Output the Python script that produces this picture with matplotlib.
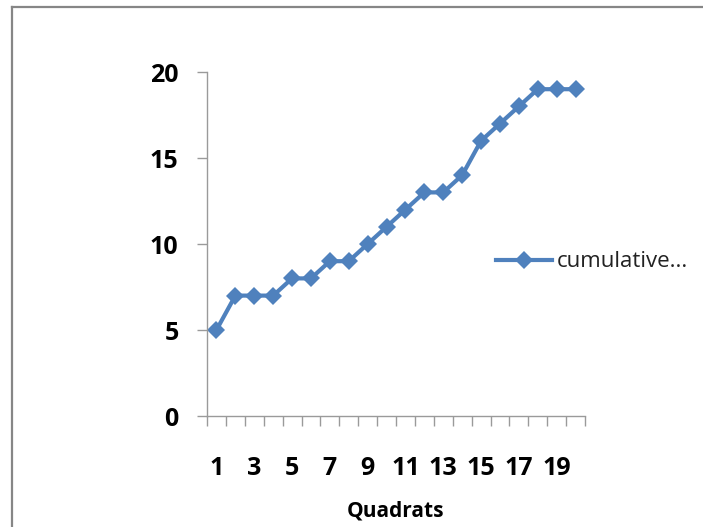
import matplotlib.pyplot as plt
from matplotlib.lines import Line2D

# cumulative species count per quadrat
quadrats = list(range(1, 21))
cumulative = [5, 7, 7, 7, 8, 8, 9, 9, 10, 11, 12, 13, 13, 14, 16, 17, 18, 19, 19, 19]
y_ticks = [0, 5, 10, 15, 20]
x_labels = [1, 3, 5, 7, 9, 11, 13, 15, 17, 19]

blue = '#4F81BD'
grey = '#868686'

plt.rcParams['font.family'] = ['Open Sans', 'DejaVu Sans']

fig = plt.figure(figsize=(7.03, 5.27), dpi=100)
ax = fig.add_axes([207 / 703, 1 - 416 / 527, 378 / 703, 344 / 527])

ax.plot(quadrats, cumulative, color=blue, lw=3, marker='D', markersize=9.5,
        markeredgewidth=0, label='cumulative...')

ax.set_xlim(0.5, 20.5)
ax.set_ylim(0, 20)

# category axis: marks between categories, labels at every other category
ax.set_xticks(x_labels)
ax.set_xticklabels([str(v) for v in x_labels], fontsize=18, fontweight='bold')
ax.set_xticks([i + 0.5 for i in range(0, 21)], minor=True)
ax.tick_params(axis='x', which='major', length=0, pad=29)
ax.tick_params(axis='x', which='minor', length=7.5, width=1, color='#9a9a9a', direction='out')

ax.set_yticks(y_ticks)
ax.set_yticklabels([str(v) for v in y_ticks], fontsize=18, fontweight='bold')
ax.tick_params(axis='y', length=7.5, width=1, color='#9a9a9a', pad=13)

ax.set_xlabel('Quadrats', fontsize=15, fontweight='bold', labelpad=14)

for side in ['top', 'right']:
    ax.spines[side].set_visible(False)
for side in ['left', 'bottom']:
    ax.spines[side].set_color('#9a9a9a')
    ax.spines[side].set_linewidth(1)

leg = fig.legend(handles=[Line2D([], [], color=blue, lw=3, marker='D', markersize=9.5,
                                 markeredgewidth=0)],
                 labels=['cumulative...'], loc='center left',
                 bbox_to_anchor=(492 / 703, 1 - 262 / 527), frameon=False,
                 fontsize=16, handlelength=2.5, handletextpad=0.2,
                 borderpad=0.2, borderaxespad=0)
for t in leg.get_texts():
    t.set_color('#222222')

# outer chart frame (left and top edges visible)
fig.add_artist(Line2D([12 / 703, 12 / 703], [0, 1 - 7 / 527], transform=fig.transFigure,
                      color=grey, lw=1.6))
fig.add_artist(Line2D([12 / 703, 1], [1 - 7 / 527, 1 - 7 / 527], transform=fig.transFigure,
                      color=grey, lw=1.6))

fig.savefig('out.png', dpi=100)
